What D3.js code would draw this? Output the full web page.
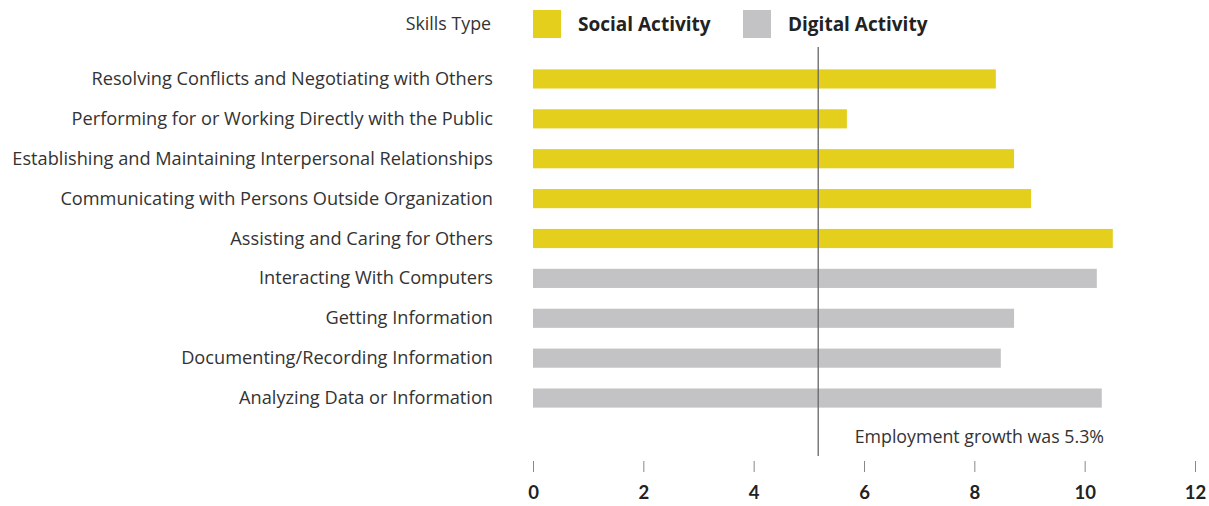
<!DOCTYPE html>
<html><head><meta charset="utf-8">
<script src="https://cdn.jsdelivr.net/npm/d3@7"></script>
<style>
html,body{margin:0;padding:0;background:#fff;}
svg{display:block;font-family:"Open Sans", Lato, sans-serif;}
</style></head>
<body><svg id="chart" width="1209" height="506"></svg>
<script>
const categories = [
  "Resolving Conflicts and Negotiating with Others",
  "Performing for or Working Directly with the Public",
  "Establishing and Maintaining Interpersonal Relationships",
  "Communicating with Persons Outside Organization",
  "Assisting and Caring for Others",
  "Interacting With Computers",
  "Getting Information",
  "Documenting/Recording Information",
  "Analyzing Data or Information"
];
const values = [8.39, 5.69, 8.72, 9.03, 10.51, 10.22, 8.72, 8.48, 10.31];
const types = ["Social Activity","Social Activity","Social Activity","Social Activity","Social Activity",
  "Digital Activity","Digital Activity","Digital Activity","Digital Activity"];
const legendTypes = ["Social Activity", "Digital Activity"];
const tickValues = [0, 2, 4, 6, 8, 10, 12];
const referenceValue = 5.17;
const referenceLabel = "Employment growth was 5.3%";
const legendTitle = "Skills Type";

const svg = d3.select("#chart");
const color = d3.scaleOrdinal().domain(legendTypes).range(["#E4D01C", "#C3C3C5"]);
const x = d3.scaleLinear().domain([0, 12]).range([533, 1195]);
const y = d3.scaleBand().domain(categories).range([59, 418]).paddingInner(0.52).paddingOuter(0.26);

// bars
svg.append("g").selectAll("rect").data(categories).join("rect")
  .attr("x", x(0))
  .attr("y", d => y(d))
  .attr("height", y.bandwidth())
  .attr("width", (d, i) => x(values[i]) - x(0))
  .attr("fill", (d, i) => color(types[i]));

// category labels
svg.append("g").selectAll("text").data(categories).join("text")
  .attr("x", 493)
  .attr("y", d => y(d) + y.bandwidth() / 2)
  .attr("dy", "0.33em")
  .attr("text-anchor", "end")
  .attr("font-size", 18.2)
  .attr("fill", "#333")
  .text(d => d);

// reference line
svg.append("line")
  .attr("x1", x(referenceValue)).attr("x2", x(referenceValue))
  .attr("y1", 47).attr("y2", 456)
  .attr("stroke", "#666").attr("stroke-width", 1.3);
svg.append("text")
  .attr("x", 1104).attr("y", 443)
  .attr("text-anchor", "end")
  .attr("font-size", 17.8)
  .attr("fill", "#333")
  .text(referenceLabel);

// axis
const axis = d3.axisBottom(x).tickValues(tickValues).tickSize(11).tickPadding(14).tickFormat(d3.format("d"));
const ax = svg.append("g").attr("transform", "translate(0,461)").call(axis);
ax.select(".domain").remove();
ax.selectAll(".tick line").attr("stroke", "#888");
ax.selectAll(".tick text").attr("font-size", 18.5).attr("font-weight", "bold").attr("fill", "#222")
  .attr("font-family", "Lato, sans-serif");

// legend
svg.append("text").attr("x", 491).attr("y", 24).attr("dy", "0.33em")
  .attr("text-anchor", "end").attr("font-size", 17.8).attr("fill", "#333").text(legendTitle);
const legendX = [533, 743];
const lg = svg.append("g").selectAll("g").data(legendTypes).join("g")
  .attr("transform", (d, i) => `translate(${legendX[i]},10)`);
lg.append("rect").attr("width", 28).attr("height", 28).attr("fill", d => color(d));
lg.append("text").attr("x", 45).attr("y", 15).attr("dy", "0.33em")
  .attr("font-size", 19).attr("font-weight", "bold").attr("fill", "#222").text(d => d);
</script>
</body></html>
